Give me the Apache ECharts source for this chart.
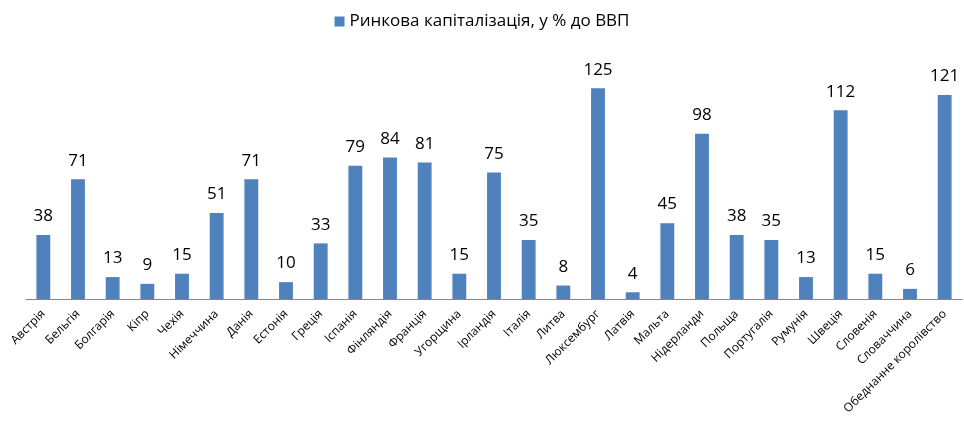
<!DOCTYPE html>
<html>
<head>
<meta charset="utf-8">
<script src="https://cdn.jsdelivr.net/npm/echarts@6/dist/echarts.min.js"></script>
<style>
    html, body { margin: 0; padding: 0; background: #fff; }
    #chart { width: 964px; height: 426px; }
</style>
</head>
<body>
<div id="chart"></div>
<script>
    // країни та значення
    var countries = ['Австрія', 'Бельгія', 'Болгарія', 'Кіпр', 'Чехія', 'Німеччина', 'Данія', 'Естонія',
        'Греція', 'Іспанія', 'Фінляндія', 'Франція', 'Угорщина', 'Ірландія', 'Італія', 'Литва',
        'Люксембург', 'Латвія', 'Мальта', 'Нідерланди', 'Польща', 'Португалія', 'Румунія', 'Швеція',
        'Словенія', 'Словаччина', 'Обеднанне королівство'];
    var capValues = [38, 71, 13, 9, 15, 51, 71, 10, 33, 79, 84, 81, 15, 75, 35, 8, 125, 4, 45, 98, 38, 35, 13, 112, 15, 6, 121];
    var seriesName = 'Ринкова капіталізація, у % до ВВП';

    var myChart = echarts.init(document.getElementById('chart'));
    var option = {
        animation: false,
        textStyle: { fontFamily: '"Open Sans", "Noto Sans", sans-serif' },
        legend: {
            top: 8,
            left: 'center',
            itemWidth: 10,
            itemHeight: 10,
            itemGap: 6,
            icon: 'rect',
            textStyle: { fontSize: 17, color: '#000' },
            data: [seriesName]
        },
        grid: {
            left: 26,
            right: 2,
            top: 63,
            bottom: 127
        },
        xAxis: {
            type: 'category',
            data: countries,
            axisLine: { lineStyle: { color: '#868686', width: 1 } },
            axisTick: { show: false },
            axisLabel: {
                interval: 0,
                rotate: 45,
                fontSize: 12,
                color: '#000',
                margin: 13
            }
        },
        yAxis: {
            type: 'value',
            min: 0,
            max: 140,
            show: false
        },
        series: [
            {
                name: seriesName,
                type: 'bar',
                barWidth: '40%',
                data: capValues,
                itemStyle: { color: '#4f81bd' },
                label: {
                    show: true,
                    position: 'top',
                    distance: 10,
                    fontSize: 17,
                    color: '#000'
                }
            }
        ]
    };
    myChart.setOption(option, true);
</script>
</body>
</html>
